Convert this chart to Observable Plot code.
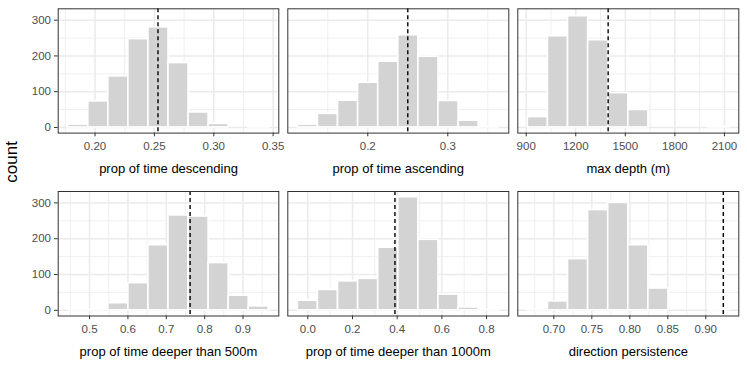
<!DOCTYPE html>
<html>
<head>
<meta charset="utf-8">
<script src="https://cdn.jsdelivr.net/npm/d3@7"></script>
<script src="https://cdn.jsdelivr.net/npm/@observablehq/plot@0.6"></script>
<style>
  body { margin: 0; background: #ffffff; }
  #chart { position: relative; width: 747px; height: 374px; font-family: "Liberation Sans", Arial, sans-serif; }
  #chart svg { position: absolute; left: 0; top: 0; }
</style>
</head>
<body>
<div id="chart"></div>
<script>
// ---------------- data ----------------
const panelTitles = [
  "prop of time descending",
  "prop of time ascending",
  "max depth (m)",
  "prop of time deeper than 500m",
  "prop of time deeper than 1000m",
  "direction persistence"
];
// start of first histogram bin and bin width (10 bins per panel)
const binStart = [0.1774, 0.1126, 910, 0.4444, -0.0445, 0.6658];
const binWidth = [0.01689, 0.02511, 121.6, 0.05227, 0.0899, 0.02644];
// bin counts
const countsDescending = [8, 73, 143, 247, 280, 180, 42, 10, 0, 1];
const countsAscending  = [8, 38, 75, 125, 184, 258, 198, 74, 19, 2];
const countsMaxDepth   = [29, 255, 311, 244, 96, 49, 0, 0, 0, 1];
const countsDeeper500  = [1, 1, 20, 76, 182, 265, 262, 132, 41, 11];
const countsDeeper1000 = [27, 57, 81, 88, 175, 316, 197, 44, 8, 1];
const countsPersist    = [1, 25, 143, 280, 300, 182, 61, 0, 0, 1];
const panelCounts = [countsDescending, countsAscending, countsMaxDepth, countsDeeper500, countsDeeper1000, countsPersist];
// observed values (dashed lines)
const observed = [0.253, 0.25, 1396, 0.762, 0.39, 0.923];
// x tick labels
const xTicks = [
  [0.20, 0.25, 0.30, 0.35],
  [0.2, 0.3],
  [900, 1200, 1500, 1800, 2100],
  [0.5, 0.6, 0.7, 0.8, 0.9],
  [0.0, 0.2, 0.4, 0.6, 0.8],
  [0.70, 0.75, 0.80, 0.85, 0.90]
];
const xDecimals = [2, 1, 0, 1, 1, 2];
const yTicks = [0, 100, 200, 300];
const yLabel = "count";

// ---------------- layout ----------------
const W = 747, H = 374;
const colLeft = [57.7, 287.3, 517.3], colRight = [278.3, 508.3, 738.3];
const rowTop = [8.3, 191], rowBottom = [132.6, 315.5];
const tickFont = 11.5, titleFont = 13;
const gridColor = "#EBEBEB";

const maxCount = d3.max(panelCounts.flat());
const yDomain = [-0.05 * maxCount, maxCount * 1.05];
const yMinor = yTicks.slice(0, -1).map((t, i) => (t + yTicks[i + 1]) / 2);

const chart = document.getElementById("chart");

panelTitles.forEach((title, i) => {
  const col = i % 3, row = Math.floor(i / 3);
  const counts = panelCounts[i];
  const bins = counts.map((c, j) => ({
    x1: binStart[i] + j * binWidth[i],
    x2: binStart[i] + (j + 1) * binWidth[i],
    count: c
  }));
  const lo = Math.min(bins[0].x1, observed[i]);
  const hi = Math.max(bins[bins.length - 1].x2, observed[i]);
  const pad = (hi - lo) * 0.05;
  const xDomain = [lo - pad, hi + pad];
  const ticks = xTicks[i];
  const step = ticks[1] - ticks[0];
  const minorAll = [ticks[0] - step / 2, ...ticks.map(t => t + step / 2)];
  const xMinor = minorAll.filter(v => v > xDomain[0] && v < xDomain[1]);
  const fmt = d3.format("." + xDecimals[i] + "f");

  const marks = [
    Plot.ruleX(xMinor, {stroke: gridColor, strokeWidth: 0.8}),
    Plot.ruleY(yMinor, {stroke: gridColor, strokeWidth: 0.8}),
    Plot.ruleX(ticks, {stroke: gridColor, strokeWidth: 1.5}),
    Plot.ruleY(yTicks, {stroke: gridColor, strokeWidth: 1.5}),
    Plot.rect(bins, {x1: "x1", x2: "x2", y1: 0, y2: "count", fill: "#D3D3D3", stroke: "white", strokeWidth: 1.6}),
    Plot.ruleX([observed[i]], {stroke: "black", strokeWidth: 1.4, strokeDasharray: "4,3"}),
    Plot.frame({stroke: "#333333", strokeWidth: 1}),
    Plot.axisX(ticks, {tickSize: 3.7, tickPadding: 4.8, tickFormat: fmt, fontSize: tickFont, stroke: "#333333", fill: "#4D4D4D", label: null}),
    Plot.text([title], {frameAnchor: "bottom", dy: 40, fontSize: titleFont, fill: "black"})
  ];
  if (col === 0) {
    marks.push(Plot.axisY(yTicks, {tickSize: 3.7, tickPadding: 3.5, fontSize: tickFont, stroke: "#333333", fill: "#4D4D4D", label: null}));
  }

  const svg = Plot.plot({
    width: W,
    height: H,
    marginLeft: colLeft[col],
    marginRight: W - colRight[col],
    marginTop: rowTop[row],
    marginBottom: H - rowBottom[row],
    style: {background: "transparent", fontFamily: "Liberation Sans, Arial, sans-serif", overflow: "visible"},
    x: {domain: xDomain},
    y: {domain: yDomain, axis: col === 0 ? undefined : null},
    marks
  });
  chart.appendChild(svg);
});

// shared y-axis title
const ysvg = d3.create("svg").attr("width", W).attr("height", H);
ysvg.append("text")
  .attr("transform", `translate(17,${(rowTop[0] + rowBottom[1]) / 2}) rotate(-90)`)
  .attr("text-anchor", "middle")
  .attr("font-family", "Liberation Sans, Arial, sans-serif")
  .attr("font-size", 17)
  .attr("fill", "black")
  .text(yLabel);
chart.appendChild(ysvg.node());
</script>
</body>
</html>
